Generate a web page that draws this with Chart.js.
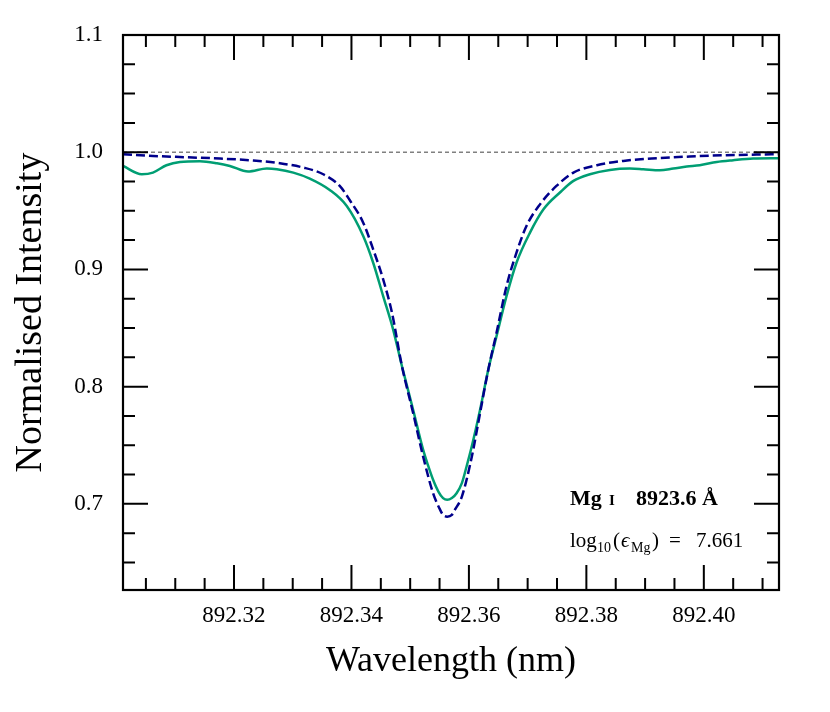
<!DOCTYPE html>
<html>
<head>
<meta charset="utf-8">
<title>Mg I 8923.6 A line profile</title>
<script src="https://cdn.jsdelivr.net/npm/chart.js@4.4.0/dist/chart.umd.min.js"></script>
<style>
  body { margin: 0; background: #fff; }
  #graph { display: block; }
</style>
</head>
<body>
<canvas id="graph" width="830" height="712"></canvas>
<script>
// observed spectrum (solid green)
const obsWave = [892.3011, 892.3043, 892.3062, 892.3085, 892.3108, 892.3142, 892.3171, 892.3193, 892.3224, 892.3256,
  892.3273, 892.3301, 892.3329, 892.3363, 892.3392, 892.3420, 892.3437, 892.3454, 892.3471, 892.3486,
  892.3505, 892.3522, 892.3531, 892.3539, 892.3548, 892.3556, 892.3563, 892.3571, 892.3579, 892.3588,
  892.3596, 892.3605, 892.3619, 892.3633, 892.3647, 892.3664, 892.3681, 892.3704, 892.3727, 892.3755,
  892.3778, 892.3806, 892.3840, 892.3874, 892.3897, 892.3925, 892.3948, 892.3971, 892.3993, 892.4022,
  892.4050, 892.4084, 892.4127];
const obsFlux = [0.9883, 0.9812, 0.9826, 0.9889, 0.9917, 0.9923, 0.9906, 0.9883, 0.9835, 0.9861,
  0.9855, 0.9826, 0.9775, 0.9678, 0.9541, 0.9285, 0.9057, 0.8772, 0.8487, 0.8174,
  0.7803, 0.7462, 0.7319, 0.7205, 0.7105, 0.7049, 0.7034, 0.7049, 0.7091, 0.7177,
  0.7319, 0.7493, 0.7803, 0.8145, 0.8430, 0.8772, 0.9057, 0.9314, 0.9513, 0.9656,
  0.9755, 0.9812, 0.9849, 0.9861, 0.9855, 0.9846, 0.9861, 0.9878, 0.9889, 0.9917,
  0.9932, 0.9946, 0.9949];

// synthetic fit (dashed navy)
const fitWave = [892.3011, 892.3062, 892.3119, 892.3176, 892.3233, 892.3278, 892.3318, 892.3352, 892.3380, 892.3398,
  892.3420, 892.3437, 892.3454, 892.3469, 892.3486, 892.3505, 892.3522, 892.3539, 892.3551, 892.3556,
  892.3563, 892.3571, 892.3576, 892.3588, 892.3605, 892.3619, 892.3633, 892.3647, 892.3664, 892.3681,
  892.3698, 892.3721, 892.3749, 892.3778, 892.3818, 892.3863, 892.3920, 892.3976, 892.4033, 892.4090,
  892.4127];
const fitFlux = [0.9983, 0.9968, 0.9957, 0.9946, 0.9929, 0.9906, 0.9869, 0.9812, 0.9712, 0.9584,
  0.9399, 0.9171, 0.8915, 0.8630, 0.8174, 0.7775, 0.7404, 0.7091, 0.6949, 0.6906,
  0.6891, 0.6906, 0.6949, 0.7062, 0.7404, 0.7775, 0.8145, 0.8459, 0.8857, 0.9143,
  0.9370, 0.9555, 0.9712, 0.9826, 0.9889, 0.9926, 0.9949, 0.9963, 0.9974, 0.9980,
  0.9983];

// continuum level
const contWave = [892.3011, 892.4128];
const contFlux = [1.0, 1.0];

const xRange = [892.3011, 892.4128];
const yRange = [0.6265, 1.1];
const xTicks = [892.32, 892.34, 892.36, 892.38, 892.40];
const yTicks = [0.7, 0.8, 0.9, 1.0, 1.1];
const xMinorStep = 0.005;
const yMinorStep = 0.025;

const lineName = 'Mg';
const lineIon = 'I';
const lineWave = '8923.6 Å';
const abundance = '7.661';

const serif = '"Liberation Serif", "DejaVu Serif", serif';

function pts(xs, ys){
  return xs.map(function(x, i){ return {x: x, y: ys[i]}; });
}

// frame + inward major/minor ticks on all four sides
const frameTicks = {
  id: 'frameTicks',
  afterDatasetsDraw: function(chart){
    var ctx = chart.ctx;
    var a = chart.chartArea;
    var xs = chart.scales.x, ys = chart.scales.y;
    ctx.save();
    ctx.strokeStyle = '#000';
    ctx.lineWidth = 2;
    ctx.beginPath();
    var k0 = Math.ceil(xs.min / xMinorStep - 1e-6), k1 = Math.floor(xs.max / xMinorStep + 1e-6);
    for(var k = k0; k <= k1; k++){
      var px = xs.getPixelForValue(k * xMinorStep);
      var len = (k % 4 === 0) ? 25 : 12;
      ctx.moveTo(px, a.bottom); ctx.lineTo(px, a.bottom - len);
      ctx.moveTo(px, a.top); ctx.lineTo(px, a.top + len);
    }
    k0 = Math.ceil(ys.min / yMinorStep - 1e-6); k1 = Math.floor(ys.max / yMinorStep + 1e-6);
    for(var j = k0; j <= k1; j++){
      var py = ys.getPixelForValue(j * yMinorStep);
      var l2 = (j % 4 === 0) ? 25 : 12;
      ctx.moveTo(a.left, py); ctx.lineTo(a.left + l2, py);
      ctx.moveTo(a.right, py); ctx.lineTo(a.right - l2, py);
    }
    ctx.stroke();
    ctx.lineWidth = 2.2;
    ctx.strokeRect(a.left, a.top, a.right - a.left, a.bottom - a.top);
    ctx.restore();
  }
};

// line id + abundance text in the lower right corner
const lineNote = {
  id: 'lineNote',
  afterDraw: function(chart){
    var ctx = chart.ctx;
    var a = chart.chartArea;
    var y1 = a.bottom - 85, y2 = a.bottom - 43;
    ctx.save();
    ctx.fillStyle = '#000';
    ctx.textBaseline = 'alphabetic';
    ctx.textAlign = 'left';
    ctx.font = 'bold 22px ' + serif;
    ctx.fillText(lineName, a.right - 209, y1);
    ctx.font = 'bold 15px ' + serif;
    ctx.fillText(lineIon, a.right - 170, y1);
    ctx.font = 'bold 22px ' + serif;
    ctx.fillText(lineWave, a.right - 143, y1);

    ctx.font = '21px ' + serif;
    ctx.fillText('log', a.right - 209, y2);
    ctx.font = '14px ' + serif;
    ctx.fillText('10', a.right - 182, y2 + 5);
    ctx.font = '21px ' + serif;
    ctx.fillText('(', a.right - 166, y2);
    ctx.font = 'italic 21px ' + serif;
    ctx.fillText('ϵ', a.right - 158, y2);
    ctx.font = '14px ' + serif;
    ctx.fillText('Mg', a.right - 148, y2 + 5);
    ctx.font = '21px ' + serif;
    ctx.fillText(')', a.right - 127, y2);
    ctx.fillText('=', a.right - 110, y2);
    ctx.fillText(abundance, a.right - 83, y2);
    ctx.restore();
  }
};

const data = {
  datasets: [{
    label: 'synthetic',
    data: pts(fitWave, fitFlux),
    borderColor: '#00008b',
    borderWidth: 2.5,
    borderDash: [9, 4],
    pointRadius: 0,
    cubicInterpolationMode: 'monotone',
    order: 0
  }, {
    label: 'observed',
    data: pts(obsWave, obsFlux),
    borderColor: '#009e73',
    borderWidth: 2.5,
    pointRadius: 0,
    cubicInterpolationMode: 'monotone',
    order: 1
  }, {
    label: 'continuum',
    data: pts(contWave, contFlux),
    borderColor: '#808080',
    borderWidth: 1.5,
    borderDash: [4, 3],
    pointRadius: 0,
    order: 2
  }]
};

const config = {
  type: 'line',
  data: data,
  options: {
    responsive: false,
    animation: false,
    devicePixelRatio: 1,
    layout: { padding: { left: 0, right: 51, top: 35, bottom: 0 } },
    plugins: {
      legend: { display: false },
      tooltip: { enabled: false }
    },
    scales: {
      x: {
        type: 'linear',
        min: xRange[0],
        max: xRange[1],
        grid: { display: false },
        border: { display: false },
        afterBuildTicks: function(s){ s.ticks = xTicks.map(function(v){ return {value: v}; }); },
        afterFit: function(s){ s.height = 122; },
        ticks: {
          color: '#000',
          padding: 4,
          maxRotation: 0,
          autoSkip: false,
          font: { family: serif, size: 23 },
          callback: function(v){ return v.toFixed(2); }
        },
        title: {
          display: true,
          text: 'Wavelength (nm)',
          color: '#000',
          font: { family: serif, size: 36 },
          padding: { top: 0, bottom: 29 }
        }
      },
      y: {
        type: 'linear',
        min: yRange[0],
        max: yRange[1],
        grid: { display: false },
        border: { display: false },
        afterBuildTicks: function(s){ s.ticks = yTicks.map(function(v){ return {value: v}; }); },
        afterFit: function(s){ s.width = 123; },
        ticks: {
          color: '#000',
          padding: 12,
          font: { family: serif, size: 23 },
          callback: function(v){ return v.toFixed(1); }
        },
        title: {
          display: true,
          text: 'Normalised Intensity',
          color: '#000',
          font: { family: serif, size: 38 },
          padding: { top: 8, bottom: 0 }
        }
      }
    }
  },
  plugins: [frameTicks, lineNote]
};

var chart = new Chart(document.getElementById('graph'), config);
</script>
</body>
</html>
